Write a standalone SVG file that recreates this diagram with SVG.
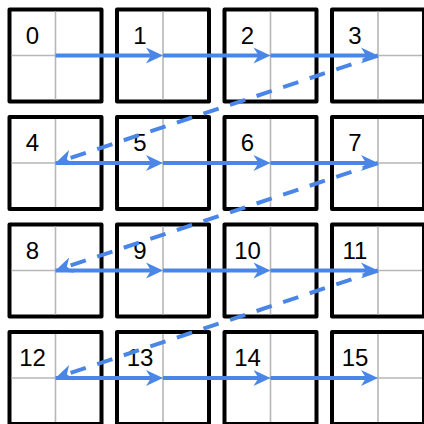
<svg xmlns="http://www.w3.org/2000/svg" width="424" height="424" viewBox="0 0 424 424">
<style>
.box{fill:#ffffff;stroke:#000000;stroke-width:4;stroke-linejoin:round}
.grid{stroke:#b7b7b7;stroke-width:1.6;fill:none}
.lbl{font-family:"Liberation Sans",Arial,sans-serif;font-size:24px;fill:#000000;text-anchor:middle}
.arr{stroke:#4a86e8;stroke-width:4;fill:none;marker-end:url(#ah)}
.dash{stroke-dasharray:16 12}
</style>
<defs>
<marker id="ah" viewBox="-20 -10 24 20" refX="-10" refY="0" markerWidth="24" markerHeight="20" markerUnits="userSpaceOnUse" orient="auto">
<path d="M0,0 L-17,-8 L-12,0 L-17,8 Z" fill="#4a86e8"/>
</marker>
<g id="cellshape">
<rect class="box" x="-46" y="-46" width="92" height="92"/>
<path class="grid" d="M0,-44V44M-44,0H44"/>
</g>
</defs>
<g id="n0" transform="translate(55.5,55.5)"><use href="#cellshape"/><text class="lbl" x="-23" y="-12">0</text></g>
<g id="n1" transform="translate(163,55.5)"><use href="#cellshape"/><text class="lbl" x="-23" y="-12">1</text></g>
<g id="n2" transform="translate(270.5,55.5)"><use href="#cellshape"/><text class="lbl" x="-23" y="-12">2</text></g>
<g id="n3" transform="translate(378,55.5)"><use href="#cellshape"/><text class="lbl" x="-23" y="-12">3</text></g>
<g id="n4" transform="translate(55.5,163)"><use href="#cellshape"/><text class="lbl" x="-23" y="-12">4</text></g>
<g id="n5" transform="translate(163,163)"><use href="#cellshape"/><text class="lbl" x="-23" y="-12">5</text></g>
<g id="n6" transform="translate(270.5,163)"><use href="#cellshape"/><text class="lbl" x="-23" y="-12">6</text></g>
<g id="n7" transform="translate(378,163)"><use href="#cellshape"/><text class="lbl" x="-23" y="-12">7</text></g>
<g id="n8" transform="translate(55.5,270.5)"><use href="#cellshape"/><text class="lbl" x="-23" y="-12">8</text></g>
<g id="n9" transform="translate(163,270.5)"><use href="#cellshape"/><text class="lbl" x="-23" y="-12">9</text></g>
<g id="n10" transform="translate(270.5,270.5)"><use href="#cellshape"/><text class="lbl" x="-23" y="-12">10</text></g>
<g id="n11" transform="translate(378,270.5)"><use href="#cellshape"/><text class="lbl" x="-23" y="-12">11</text></g>
<g id="n12" transform="translate(55.5,378)"><use href="#cellshape"/><text class="lbl" x="-23" y="-12">12</text></g>
<g id="n13" transform="translate(163,378)"><use href="#cellshape"/><text class="lbl" x="-23" y="-12">13</text></g>
<g id="n14" transform="translate(270.5,378)"><use href="#cellshape"/><text class="lbl" x="-23" y="-12">14</text></g>
<g id="n15" transform="translate(378,378)"><use href="#cellshape"/><text class="lbl" x="-23" y="-12">15</text></g>
<g id="connectors">
<path class="arr" d="M55.5,55.5H153"/>
<path class="arr" d="M163,55.5H260.5"/>
<path class="arr" d="M270.5,55.5H368"/>
<path class="arr dash" d="M378,55.5L65,159.84"/>
<path class="arr" d="M55.5,163H153"/>
<path class="arr" d="M163,163H260.5"/>
<path class="arr" d="M270.5,163H368"/>
<path class="arr dash" d="M378,163L65,267.34"/>
<path class="arr" d="M55.5,270.5H153"/>
<path class="arr" d="M163,270.5H260.5"/>
<path class="arr" d="M270.5,270.5H368"/>
<path class="arr dash" d="M378,270.5L65,374.84"/>
<path class="arr" d="M55.5,378H153"/>
<path class="arr" d="M163,378H260.5"/>
<path class="arr" d="M270.5,378H368"/>
</g>
</svg>
